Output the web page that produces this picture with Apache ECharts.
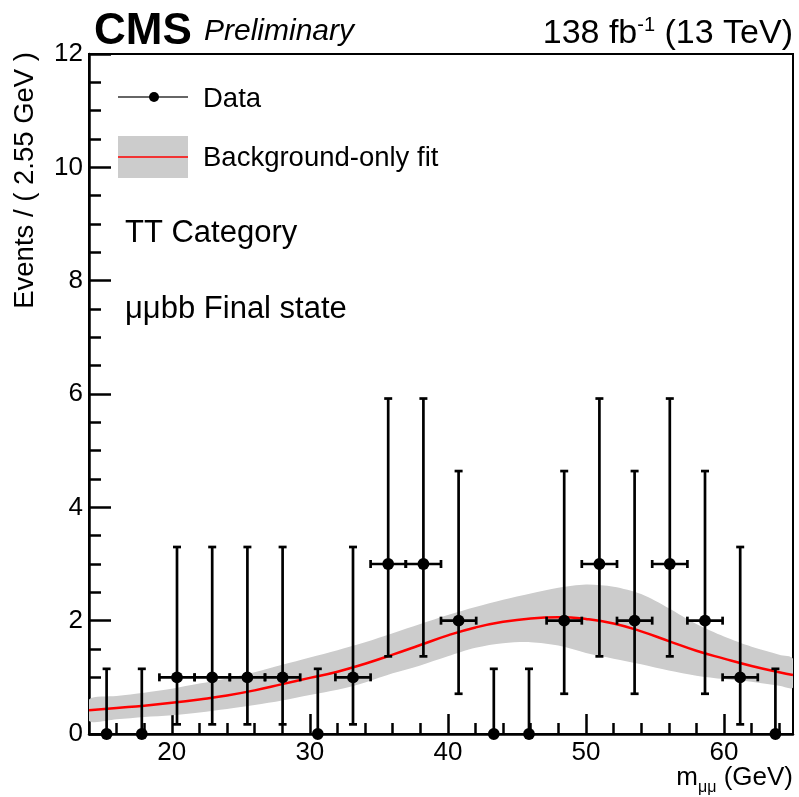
<!DOCTYPE html>
<html>
<head>
<meta charset="utf-8">
<title>m_mumu spectrum, TT category</title>
<script src="https://cdn.jsdelivr.net/npm/echarts@6/dist/echarts.min.js"></script>
<style>
  html, body { margin: 0; padding: 0; background: #ffffff; }
  #chart { width: 799px; height: 797px; }
</style>
</head>
<body>
<div id="chart"></div>
<script>
// Observed events, 2.55 GeV bins starting at 14 GeV
const binCenters = [15.275, 17.825, 20.375, 22.925, 25.475, 28.025, 30.575, 33.125, 35.675, 38.225,
                    40.775, 43.325, 45.875, 48.425, 50.975, 53.525, 56.075, 58.625, 61.175, 63.725];
const counts     = [0, 0, 1, 1, 1, 1, 0, 1, 3, 3, 2, 0, 0, 2, 3, 2, 3, 2, 1, 0];
// Asymmetric Poisson uncertainties (down / up)
const errDown    = [0, 0, 0.83, 0.83, 0.83, 0.83, 0, 0.83, 1.63, 1.63, 1.29, 0, 0, 1.29, 1.63, 1.29, 1.63, 1.29, 0.83, 0];
const errUp      = [1.15, 1.15, 2.30, 2.30, 2.30, 2.30, 1.15, 2.30, 2.92, 2.92, 2.64, 1.15, 1.15, 2.64, 2.92, 2.64, 2.92, 2.64, 2.30, 1.15];
const binHalfWidth = 1.275;

// Background-only fit: central curve and uncertainty band
const fitMass    = [14, 16, 18, 20, 22, 24, 26, 28, 30, 32, 34, 36, 38, 40, 42, 44, 46, 48, 50, 52, 54, 56, 58, 60, 62, 64, 65];
const fitCentral = [0.42, 0.46, 0.50, 0.55, 0.61, 0.68, 0.77, 0.88, 0.99, 1.10, 1.24, 1.40, 1.57, 1.74, 1.88, 1.98, 2.04, 2.06, 2.03, 1.95, 1.81, 1.64, 1.47, 1.33, 1.20, 1.09, 1.04];
const fitUpper   = [0.61, 0.67, 0.73, 0.80, 0.89, 0.98, 1.09, 1.22, 1.35, 1.48, 1.62, 1.78, 1.94, 2.10, 2.24, 2.37, 2.48, 2.58, 2.64, 2.60, 2.47, 2.22, 1.94, 1.72, 1.54, 1.40, 1.33];
const fitLower   = [0.23, 0.26, 0.30, 0.33, 0.38, 0.44, 0.51, 0.59, 0.69, 0.78, 0.91, 1.07, 1.21, 1.37, 1.52, 1.60, 1.62, 1.56, 1.43, 1.33, 1.23, 1.12, 1.03, 0.97, 0.92, 0.85, 0.82];

// Axis ticks
const xMajorTicks = [20, 30, 40, 50, 60];
const xMinorTicks = [16, 18, 22, 24, 26, 28, 32, 34, 36, 38, 42, 44, 46, 48, 52, 54, 56, 58, 62, 64];

const FONT = '"Liberation Sans", Arial, Helvetica, sans-serif';

const pointData = binCenters.map((x, i) => [x, counts[i], errDown[i], errUp[i], binHalfWidth]);
const bandData  = fitMass.map((x, i) => [x, fitLower[i], fitUpper[i]]);
const fitData   = fitMass.map((x, i) => [x, fitCentral[i]]);

// Uncertainty band: one filled shape through all upper points, back along the lower ones
function renderBand(params, api) {
  if (params.dataIndexInside !== 0) return null;
  const n = params.dataInsideLength;
  const upper = [], lower = [];
  for (let i = 0; i < n; i++) {
    const x = api.value(0, i);
    upper.push(api.coord([x, api.value(2, i)]));
    lower.push(api.coord([x, api.value(1, i)]));
  }
  return {
    type: 'group',
    children: [
      {
        type: 'polygon',
        shape: { points: upper.concat(lower.reverse()), smooth: 0.3 },
        style: { fill: '#cccccc', stroke: 'none' }
      }
    ]
  };
}

// Data points with vertical/horizontal error bars and end caps
function renderPoint(params, api) {
  const x = api.value(0), y = api.value(1);
  const lo = api.value(2), hi = api.value(3), hw = api.value(4);
  const c = api.coord([x, y]);
  const top = api.coord([x, y + hi]);
  const bot = api.coord([x, y - lo]);
  const st = { stroke: '#000', lineWidth: 2.7 };
  const cap = 4;
  const kids = [
    { type: 'line', shape: { x1: c[0], y1: bot[1], x2: c[0], y2: top[1] }, style: st },
    { type: 'line', shape: { x1: c[0] - cap, y1: top[1], x2: c[0] + cap, y2: top[1] }, style: st }
  ];
  if (lo > 0) {
    kids.push({ type: 'line', shape: { x1: c[0] - cap, y1: bot[1], x2: c[0] + cap, y2: bot[1] }, style: st });
  }
  if (y > 0) {
    const l = api.coord([x - hw, y]);
    const r = api.coord([x + hw, y]);
    kids.push({ type: 'line', shape: { x1: l[0], y1: c[1], x2: r[0], y2: c[1] }, style: st });
    kids.push({ type: 'line', shape: { x1: l[0], y1: c[1] - cap, x2: l[0], y2: c[1] + cap }, style: st });
    kids.push({ type: 'line', shape: { x1: r[0], y1: c[1] - cap, x2: r[0], y2: c[1] + cap }, style: st });
  }
  kids.push({ type: 'circle', shape: { cx: c[0], cy: c[1], r: 5.9 }, style: { fill: '#000' } });
  return { type: 'group', children: kids };
}

const chart = echarts.init(document.getElementById('chart'), null, { renderer: 'canvas' });

const option = {
  animation: false,
  backgroundColor: '#ffffff',
  grid: {
    left: 89, right: 6, top: 54, bottom: 63,
    show: true, borderColor: '#000', borderWidth: 2, backgroundColor: 'transparent'
  },
  xAxis: [
    {
      type: 'value', min: 14, max: 65, position: 'bottom',
      splitLine: { show: false },
      axisLine: { show: true, onZero: false, lineStyle: { color: '#000', width: 2.5 } },
      axisTick: { show: true, inside: true, length: 20, customValues: xMajorTicks, lineStyle: { color: '#000', width: 2.5 } },
      axisLabel: { show: true, customValues: xMajorTicks, color: '#000', fontSize: 26, fontFamily: FONT, margin: 6 }
    },
    {
      type: 'value', min: 14, max: 65, position: 'bottom',
      splitLine: { show: false },
      axisLine: { show: false },
      axisTick: { show: true, inside: true, length: 11, customValues: xMinorTicks, lineStyle: { color: '#000', width: 2.5 } },
      axisLabel: { show: false }
    }
  ],
  yAxis: {
    type: 'value', min: 0, max: 12, interval: 2,
    splitLine: { show: false },
    axisLine: { show: true, onZero: false, lineStyle: { color: '#000', width: 2.5 } },
    axisTick: { show: true, inside: true, length: 22, lineStyle: { color: '#000', width: 2.5 } },
    minorTick: { show: true, splitNumber: 4, length: 12, lineStyle: { color: '#000', width: 2.5 } },
    axisLabel: { color: '#000', fontSize: 26, fontFamily: FONT, margin: 6 }
  },
  series: [
    {
      name: 'Background-only fit band', type: 'custom', data: bandData, renderItem: renderBand,
      clip: true, z: 1, silent: true
    },
    {
      name: 'Background-only fit', type: 'line', data: fitData, smooth: true,
      symbol: 'none', lineStyle: { color: '#ff0000', width: 2.5 }, z: 2
    },
    {
      name: 'Data', type: 'custom', data: pointData, renderItem: renderPoint,
      clip: false, z: 3
    }
  ],
  graphic: [
    // Header
    { type: 'text', left: 94, top: 10, style: { text: 'CMS', font: 'bold 44px ' + FONT, fill: '#000' } },
    { type: 'text', left: 204, top: 17, style: { text: 'Preliminary', font: 'italic 30px ' + FONT, fill: '#000' } },
    {
      type: 'text', right: 6, top: 15,
      style: {
        text: '{a|138 fb}{s|-1}{a| (13 TeV)}', fill: '#000',
        rich: {
          a: { fontSize: 34, fontFamily: FONT, lineHeight: 36, verticalAlign: 'bottom' },
          s: { fontSize: 20, fontFamily: FONT, lineHeight: 36, verticalAlign: 'top' }
        }
      }
    },
    // Axis titles
    {
      type: 'text', x: 25, y: 52, rotation: Math.PI / 2,
      style: { text: 'Events / ( 2.55 GeV )', font: '27.5px ' + FONT, fill: '#000', align: 'right', verticalAlign: 'middle' }
    },
    {
      type: 'text', right: 6, top: 765,
      style: {
        text: '{a|m}{s|μμ}{a| (GeV)}', fill: '#000',
        rich: {
          a: { fontSize: 26, fontFamily: FONT, lineHeight: 28, verticalAlign: 'top' },
          s: { fontSize: 16, fontFamily: FONT, lineHeight: 28, verticalAlign: 'bottom', padding: [0, 0, -3, 0] }
        }
      }
    },
    // Legend: data
    { type: 'line', shape: { x1: 118, y1: 97, x2: 188, y2: 97 }, style: { stroke: '#333', lineWidth: 1.5 } },
    { type: 'circle', shape: { cx: 154, cy: 97, r: 5 }, style: { fill: '#000' } },
    { type: 'text', x: 203, y: 99, style: { text: 'Data', font: '27.5px ' + FONT, fill: '#000', verticalAlign: 'middle' } },
    // Legend: fit
    { type: 'rect', shape: { x: 118, y: 136, width: 70, height: 42 }, style: { fill: '#cccccc' } },
    { type: 'line', shape: { x1: 118, y1: 157, x2: 188, y2: 157 }, style: { stroke: '#ff0000', lineWidth: 1.5 } },
    { type: 'text', x: 203, y: 158, style: { text: 'Background-only fit', font: '27.5px ' + FONT, fill: '#000', verticalAlign: 'middle' } },
    // Category labels
    { type: 'text', x: 125, y: 233, style: { text: 'TT Category', font: '31px ' + FONT, fill: '#000', verticalAlign: 'middle' } },
    { type: 'text', x: 125, y: 309, style: { text: 'μμbb Final state', font: '31px ' + FONT, fill: '#000', verticalAlign: 'middle' } }
  ]
};

chart.setOption(option);
</script>
</body>
</html>
